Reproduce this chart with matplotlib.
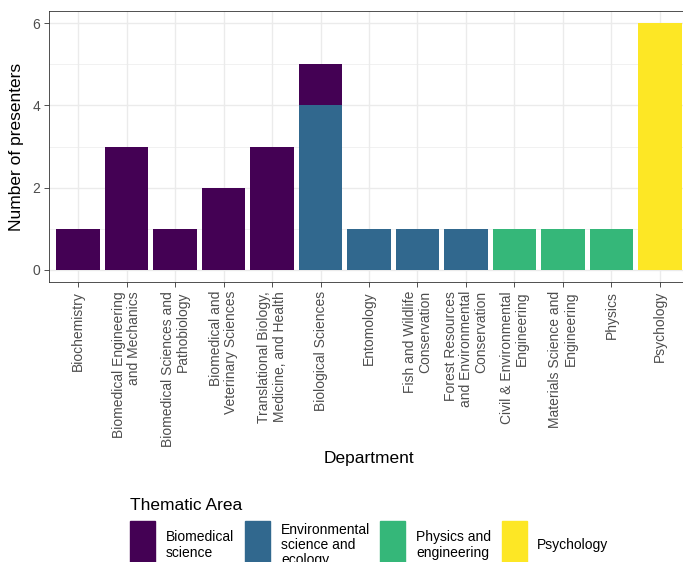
import matplotlib
matplotlib.use("Agg")
import matplotlib.pyplot as plt
from matplotlib.patches import Rectangle
import numpy as np

plt.rcParams['font.family'] = ['Liberation Sans', 'DejaVu Sans']

# Data
departments = [
    "Biochemistry",
    "Biomedical Engineering\nand Mechanics",
    "Biomedical Sciences and\nPathobiology",
    "Biomedical and\nVeterinary Sciences",
    "Translational Biology,\nMedicine, and Health",
    "Biological Sciences",
    "Entomology",
    "Fish and Wildlife\nConservation",
    "Forest Resources\nand Environmental\nConservation",
    "Civil & Environmental\nEngineering",
    "Materials Science and\nEngineering",
    "Physics",
    "Psychology",
]
areas = ["Biomedical\nscience", "Environmental\nscience and\necology",
         "Physics and\nengineering", "Psychology"]
area_colors = ["#440154", "#31688E", "#35B779", "#FDE725"]
biomedical = [1, 3, 1, 2, 3, 1, 0, 0, 0, 0, 0, 0, 0]
environmental = [0, 0, 0, 0, 0, 4, 1, 1, 1, 0, 0, 0, 0]
physics_eng = [0, 0, 0, 0, 0, 0, 0, 0, 0, 1, 1, 1, 0]
psychology = [0, 0, 0, 0, 0, 0, 0, 0, 0, 0, 0, 0, 6]
counts = [biomedical, environmental, physics_eng, psychology]

W, H = 683, 562
fig = plt.figure(figsize=(W / 100, H / 100), dpi=100)
ax = fig.add_axes([49 / W, 1 - 282 / H, 640 / W, 271 / H])

x = np.arange(1, len(departments) + 1)
# ggplot stacks first level on top, so build from the last one
bottom = np.zeros(len(departments))
for vals, col in reversed(list(zip(counts, area_colors))):
    vals = np.array(vals, dtype=float)
    ax.bar(x, vals, width=0.9, bottom=bottom, color=col,
           edgecolor='none', zorder=3)
    bottom += vals

ax.set_xlim(0.4, len(departments) + 0.6)
ax.set_ylim(-0.3, 6.3)
ax.set_yticks([0, 2, 4, 6])
ax.set_yticks([1, 3, 5], minor=True)
ax.set_xticks(x)
ax.set_xticklabels(departments, rotation=90, ha='center', va='top',
                   multialignment='right', linespacing=1.1)
ax.tick_params(axis='both', which='major', labelsize=10, labelcolor='#4D4D4D',
               color='#333333', length=3.5, width=0.6, pad=3)
ax.tick_params(axis='y', which='minor', length=0)
ax.grid(True, which='major', color='#EBEBEB', lw=1.0, zorder=0)
ax.grid(True, which='minor', axis='y', color='#EBEBEB', lw=0.5, zorder=0)
ax.set_axisbelow(True)
for s in ax.spines.values():
    s.set_color('#333333')
    s.set_linewidth(0.6)

ax.set_ylabel("Number of presenters", fontsize=12.5, labelpad=6)
fig.text(369 / W, 1 - 459 / H, "Department", fontsize=12.5,
         ha='center', va='center')

# Legend
fig.text(130 / W, 1 - 505 / H, "Thematic Area", fontsize=12.5,
         ha='left', va='center')
key_x = [130, 245, 380, 502]
lab_x = [166, 281, 416, 537]
for kx, lx, name, col in zip(key_x, lab_x, areas, area_colors):
    fig.patches.append(Rectangle((kx / W, 1 - 569 / H), 25 / W, 48 / H,
                                 transform=fig.transFigure, color=col))
    fig.text(lx / W, 1 - 545 / H, name, fontsize=10, ha='left',
             va='center', linespacing=1.1)

fig.savefig("out.png", dpi=100)
